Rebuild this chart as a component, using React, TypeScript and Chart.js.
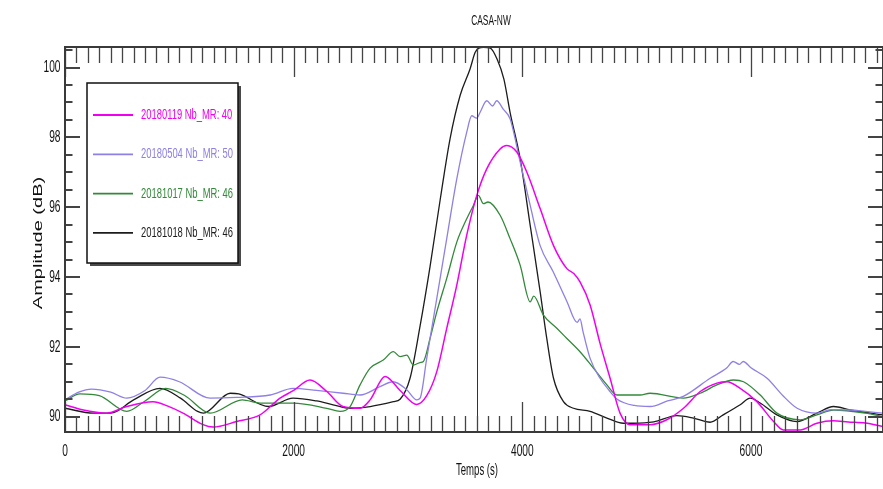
import React, { useEffect, useRef } from 'react';
import { Chart, registerables } from 'chart.js';

Chart.register(...registerables);

// ---------- data ----------
const seriesLabels = ['20180119 Nb_MR: 40', '20180504 Nb_MR: 50', '20181017 Nb_MR: 46', '20181018 Nb_MR: 46'];
const seriesColors = ['#f000f0', '#8e80e4', '#33893a', '#1c1c1c'];

const magentaT = [0, 150, 365, 540, 770, 900, 1032, 1207, 1295, 1502, 1706, 1881, 2000, 2143, 2290, 2432, 2581, 2669, 2800, 2931, 3077, 3164, 3252, 3339, 3427, 3514, 3602, 3689, 3806, 3864, 3952, 4040, 4156, 4273, 4390, 4450, 4505, 4593, 4680, 4768, 4855, 4943, 5118, 5264, 5410, 5556, 5702, 5790, 5906, 6052, 6198, 6283, 6430, 6577, 6720, 6850, 7000, 7155];
const magentaAmp = [90.34, 90.2, 90.1, 90.29, 90.43, 90.3, 90.1, 89.77, 89.7, 89.86, 90.05, 90.53, 90.75, 91.05, 90.72, 90.29, 90.24, 90.48, 91.15, 90.75, 90.35, 90.6, 91.29, 92.53, 93.77, 95.2, 96.34, 97.1, 97.67, 97.77, 97.58, 97.0, 95.96, 94.9, 94.24, 94.1, 93.86, 93.2, 92.1, 91.1, 90.1, 89.77, 89.77, 89.91, 90.24, 90.72, 90.96, 91.0, 90.81, 90.43, 89.86, 89.62, 89.62, 89.81, 89.88, 89.85, 89.82, 89.72];

const lavenderT = [0, 120, 233, 400, 540, 700, 831, 1000, 1269, 1500, 1794, 1995, 2200, 2432, 2581, 2750, 2870, 2989, 3077, 3106, 3164, 3252, 3339, 3427, 3514, 3558, 3600, 3631, 3689, 3740, 3776, 3835, 3893, 3981, 4069, 4156, 4270, 4390, 4480, 4505, 4530, 4593, 4680, 4760, 4830, 4979, 5118, 5270, 5408, 5643, 5790, 5844, 5900, 5932, 6000, 6141, 6280, 6404, 6580, 6700, 6869, 7000, 7155];
const lavenderAmp = [90.48, 90.7, 90.79, 90.7, 90.53, 90.75, 91.13, 91.0, 90.53, 90.55, 90.62, 90.81, 90.75, 90.67, 90.62, 90.85, 91.0, 90.77, 90.48, 90.53, 91.67, 93.39, 95.1, 96.81, 98.15, 98.62, 98.55, 98.72, 99.05, 98.9, 99.05, 98.8, 98.53, 97.3, 96.05, 94.9, 94.15, 93.3, 92.7, 92.8, 92.45, 91.67, 91.1, 90.75, 90.5, 90.32, 90.29, 90.45, 90.58, 91.1, 91.4, 91.58, 91.5, 91.58, 91.4, 91.1, 90.6, 90.24, 90.1, 90.2, 90.19, 90.15, 90.1];

const greenT = [0, 130, 300, 540, 700, 880, 1050, 1270, 1550, 1706, 1995, 2290, 2406, 2494, 2581, 2669, 2784, 2872, 2931, 2989, 3047, 3106, 3135, 3193, 3252, 3339, 3427, 3514, 3572, 3616, 3660, 3700, 3806, 3893, 3981, 4069, 4100, 4185, 4302, 4390, 4505, 4622, 4740, 4828, 5030, 5118, 5408, 5556, 5702, 5848, 5935, 6081, 6227, 6430, 6577, 6722, 7000, 7155];
const greenAmp = [90.45, 90.65, 90.6, 90.15, 90.45, 90.81, 90.6, 90.1, 90.48, 90.39, 90.39, 90.24, 90.15, 90.29, 90.91, 91.39, 91.62, 91.86, 91.72, 91.76, 91.48, 91.55, 91.58, 92.24, 93.0, 93.96, 95.0, 95.67, 96.05, 96.34, 96.1, 96.15, 95.77, 95.1, 94.34, 93.29, 93.45, 92.91, 92.53, 92.24, 91.86, 91.39, 90.91, 90.62, 90.62, 90.67, 90.53, 90.67, 90.91, 91.05, 91.0, 90.62, 90.1, 89.91, 90.05, 90.19, 90.1, 90.0];

const blackT = [0, 250, 400, 600, 830, 1010, 1160, 1210, 1445, 1520, 1780, 1995, 2200, 2345, 2494, 2669, 2872, 2931, 3018, 3106, 3193, 3281, 3368, 3456, 3543, 3587, 3620, 3660, 3720, 3780, 3839, 3893, 3981, 4069, 4156, 4214, 4273, 4360, 4448, 4593, 4740, 4883, 4972, 5150, 5352, 5497, 5643, 5757, 5906, 5993, 6081, 6227, 6402, 6577, 6722, 6868, 7155];
const blackAmp = [90.24, 90.1, 90.1, 90.48, 90.81, 90.53, 90.15, 90.1, 90.67, 90.65, 90.29, 90.53, 90.45, 90.34, 90.24, 90.29, 90.43, 90.5, 91.1, 92.6, 94.3, 96.2, 97.96, 99.2, 99.96, 100.43, 100.56, 100.58, 100.56, 100.24, 99.67, 98.72, 97.39, 95.48, 93.58, 92.24, 91.1, 90.43, 90.24, 90.15, 89.96, 89.81, 89.81, 89.85, 90.03, 89.96, 89.84, 90.05, 90.34, 90.53, 90.39, 90.05, 89.86, 90.1, 90.29, 90.19, 90.05];

const xTickLabels = [0, 2000, 4000, 6000];
const yTickLabels = [90, 92, 94, 96, 98, 100];
const markerTime = 3600;
const chartTitle = 'CASA-NW';
const xTitle = 'Temps (s)';
const yTitle = 'Amplitude (dB)';

const FONT = '"Liberation Sans", Arial, sans-serif';

function drawText(
  ctx: CanvasRenderingContext2D,
  text: string,
  x: number,
  y: number,
  size: number,
  sx: number,
  color: string,
  align: CanvasTextAlign,
  rotate = false
) {
  ctx.save();
  ctx.translate(x, y);
  if (rotate) {
    ctx.rotate(-Math.PI / 2);
    ctx.scale(1, sx);
  } else {
    ctx.scale(sx, 1);
  }
  ctx.font = `${size}px ${FONT}`;
  ctx.fillStyle = color;
  ctx.textAlign = align;
  ctx.textBaseline = 'middle';
  ctx.fillText(text, 0, 0);
  ctx.restore();
}

const framePlugin = {
  id: 'framePlugin',
  afterDraw(chart: any) {
    const ctx: CanvasRenderingContext2D = chart.ctx;
    const { left, top, right, bottom } = chart.chartArea;
    const xs = chart.scales.x;
    const ys = chart.scales.y;
    ctx.save();

    // marker line
    const mx = Math.round(xs.getPixelForValue(markerTime)) + 0.5;
    ctx.strokeStyle = '#333';
    ctx.lineWidth = 1;
    ctx.beginPath();
    ctx.moveTo(mx, top);
    ctx.lineTo(mx, bottom);
    ctx.stroke();

    // x ticks
    ctx.strokeStyle = '#444';
    ctx.lineWidth = 1.3;
    for (let v = 0; v <= xs.max; v += 100) {
      const px = Math.round(xs.getPixelForValue(v)) + 0.5;
      const len = v % 2000 === 0 ? 30 : 16;
      ctx.beginPath();
      ctx.moveTo(px, bottom);
      ctx.lineTo(px, bottom - len);
      ctx.moveTo(px, top);
      ctx.lineTo(px, top + len);
      ctx.stroke();
    }
    // y ticks
    ctx.lineWidth = 2;
    for (let i = 0; i <= 21; i++) {
      const v = 90 + i * 0.5;
      if (v > ys.max) break;
      const py = Math.round(ys.getPixelForValue(v));
      const len = i % 4 === 0 ? 15 : 7.5;
      ctx.beginPath();
      ctx.moveTo(left, py);
      ctx.lineTo(left + len, py);
      ctx.moveTo(right, py);
      ctx.lineTo(right - len, py);
      ctx.stroke();
    }

    // frame
    ctx.strokeStyle = '#3a3a3a';
    ctx.lineWidth = 2;
    ctx.strokeRect(left, top, right - left, bottom - top);

    // tick labels
    xTickLabels.forEach((v) => {
      drawText(ctx, String(v), xs.getPixelForValue(v), 451, 17, 0.6, '#111', 'center');
    });
    yTickLabels.forEach((v) => {
      drawText(ctx, String(v), 60.5, ys.getPixelForValue(v), 17, 0.6, '#111', 'right');
    });

    // titles
    drawText(ctx, chartTitle, 491, 21, 14, 0.6, '#111', 'center');
    drawText(ctx, xTitle, 477, 471, 16, 0.6, '#111', 'center');
    drawText(ctx, yTitle, 39, 243, 20, 0.6, '#111', 'center', true);

    // legend box
    const bx = 87, by = 83, bw = 151, bh = 180;
    ctx.fillStyle = '#4a4a4a';
    ctx.fillRect(bx + 3, by + 3, bw, bh);
    ctx.fillStyle = '#ffffff';
    ctx.fillRect(bx, by, bw, bh);
    ctx.strokeStyle = '#111';
    ctx.lineWidth = 1.5;
    ctx.strokeRect(bx, by, bw, bh);
    seriesLabels.forEach((lab, i) => {
      const ly = 115 + i * 39.3;
      ctx.strokeStyle = seriesColors[i];
      ctx.lineWidth = i === 0 ? 2.2 : 1.8;
      ctx.beginPath();
      ctx.moveTo(93, ly);
      ctx.lineTo(133, ly);
      ctx.stroke();
      drawText(ctx, lab, 141, ly, 15, 0.627, seriesColors[i], 'left');
    });

    ctx.restore();
  },
};

function toPoints(t: number[], a: number[]) {
  return t.map((x, i) => ({ x, y: a[i] }));
}

export default function App() {
  const ref = useRef<HTMLCanvasElement | null>(null);

  useEffect(() => {
    document.body.style.margin = '0';
    document.body.style.overflow = 'hidden';
    const canvas = ref.current;
    if (!canvas) return;
    const pairs: [number[], number[]][] = [
      [magentaT, magentaAmp],
      [lavenderT, lavenderAmp],
      [greenT, greenAmp],
      [blackT, blackAmp],
    ];
    const chart = new Chart(canvas, {
      type: 'line',
      data: {
        datasets: pairs.map((p, i) => ({
          label: seriesLabels[i],
          data: toPoints(p[0], p[1]),
          borderColor: seriesColors[i],
          backgroundColor: seriesColors[i],
          borderWidth: i === 0 ? 1.5 : 1.3,
          pointRadius: 0,
          fill: false,
          cubicInterpolationMode: 'monotone' as const,
        })),
      },
      options: {
        responsive: false,
        animation: false,
        layout: { padding: { left: 65, top: 47, right: 0, bottom: 57 } },
        scales: {
          x: { type: 'linear', display: false, min: 0, max: 7155 },
          y: { type: 'linear', display: false, min: 89.56, max: 100.59 },
        },
        plugins: {
          legend: { display: false },
          tooltip: { enabled: false },
          title: { display: false },
        },
      },
      plugins: [framePlugin],
    });
    return () => chart.destroy();
  }, []);

  return (
    <div style={{ width: 883, height: 489, background: '#fff' }}>
      <canvas ref={ref} width={883} height={489} style={{ display: 'block' }} />
    </div>
  );
}
